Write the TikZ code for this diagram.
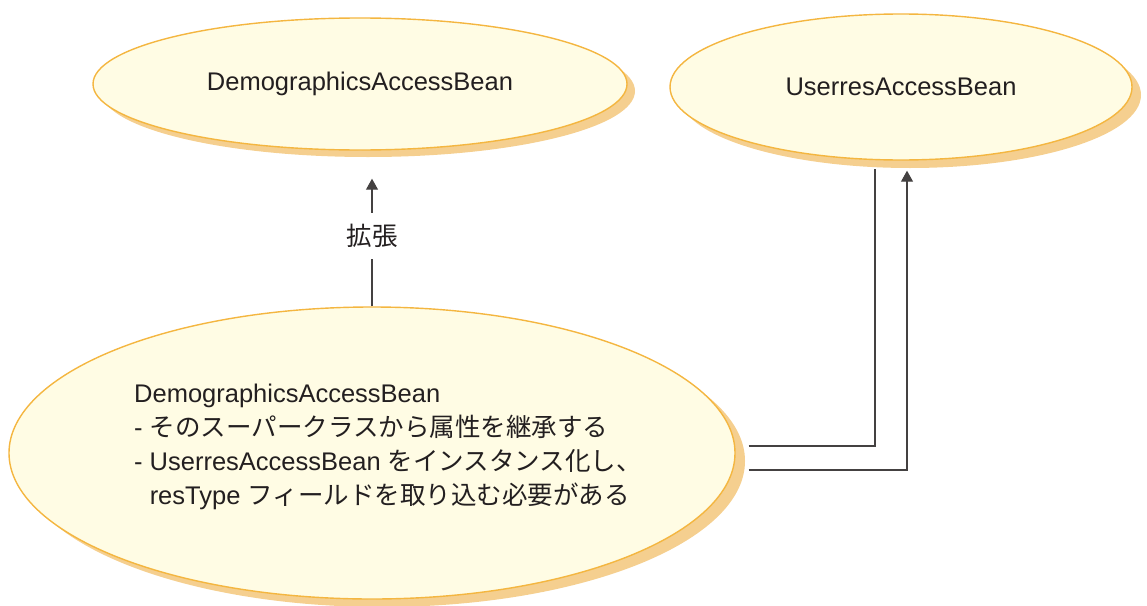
\documentclass[tikz,border=0pt]{standalone}
\usepackage{fontspec}
\setmainfont{Liberation Sans}
\newfontfamily\jp{Noto Sans CJK JP}
\usetikzlibrary{shapes.geometric,shadows,arrows.meta}
\definecolor{beanfill}{HTML}{FFFCE4}
\definecolor{beanedge}{HTML}{F4B640}
\definecolor{beanshade}{HTML}{F5CF8F}
\definecolor{ink}{HTML}{231F20}
\tikzset{
  bean/.style={ellipse, draw=beanedge, line width=1.4pt, fill=beanfill,
    inner sep=0pt, text=ink},
  conn/.style={draw=ink!85, line width=1.1pt},
  tip/.style={-{Triangle[width=12pt,length=11pt]}},
  txt/.style={text=ink, font=\fontsize{25.5}{34}\selectfont}
}
\begin{document}
\begin{tikzpicture}[x=1pt,y=-1pt]
\useasboundingbox (0,0) rectangle (1147,605);

% class beans
\node[bean, minimum width=534pt, minimum height=132pt,
  general shadow={fill=beanshade, shadow xshift=8pt, shadow yshift=-7pt},
  txt] (dem) at (360,84) {DemographicsAccessBean};
\node[bean, minimum width=462pt, minimum height=146pt,
  general shadow={fill=beanshade, shadow xshift=9pt, shadow yshift=-8pt},
  txt] (usr) at (901,87) {UserresAccessBean};
\node[bean, minimum width=726pt, minimum height=292pt,
  general shadow={fill=beanshade, shadow xshift=10pt, shadow yshift=-8pt}]
  (bot) at (372,453) {};
\node[txt, align=left, inner sep=0pt, anchor=center] (bottxt) at (388,447)
  {DemographicsAccessBean\\
   - {\jp そのスーパークラスから属性を継承する}\\
   - UserresAccessBean {\jp をインスタンス化し、}\\
   \phantom{- }resType {\jp フィールドを取り込む必要がある}};

% extends relation
\coordinate (exttip) at ([yshift=-28pt]dem.south -| bot.north);
\draw[conn, tip] (bot.north) -- (exttip)
  node[pos=0.55, fill=white, inner xsep=3pt, inner ysep=11pt, txt] (ext) {\jp 拡張};

% links to UserresAccessBean
\coordinate (ua) at ([xshift=-26pt, yshift=-8pt]usr.south);
\coordinate (ub) at ([xshift=6pt, yshift=-10pt]usr.south);
\coordinate (ba) at ([xshift=13pt, yshift=7pt]bot.east);
\coordinate (bb) at ([xshift=13pt, yshift=-17pt]bot.east);
\draw[conn] (ba) -| (ua);
\draw[conn, tip] (bb) -| (ub);
\end{tikzpicture}
\end{document}
